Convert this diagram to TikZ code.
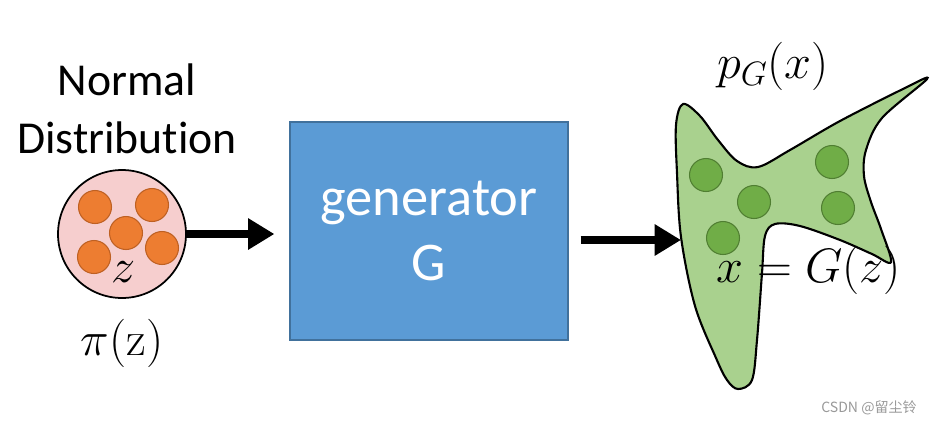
\RequirePackage{fix-cm}
\documentclass[tikz,border=0pt]{standalone}
\usepackage{fontspec}
\usetikzlibrary{arrows.meta}
\newfontfamily\calibri[Ligatures={NoCommon,NoRequired,NoContextual}]{Carlito}
\newfontfamily\cjkfont{Noto Sans CJK SC}

\definecolor{priorpink}{RGB}{246,206,206}
\definecolor{dotorange}{RGB}{237,125,49}
\definecolor{dotorangeline}{RGB}{190,96,34}
\definecolor{genblue}{RGB}{91,155,213}
\definecolor{genblueline}{RGB}{65,113,156}
\definecolor{blobgreen}{RGB}{169,209,142}
\definecolor{dotgreen}{RGB}{112,173,71}
\definecolor{dotgreenline}{RGB}{80,126,50}

\tikzset{
  bigtext/.style={font=\fontsize{27.5}{33}\selectfont},
  zdot/.style={circle, minimum size=0.66cm, inner sep=0pt, fill=dotorange, draw=dotorangeline, line width=0.6pt},
  xdot/.style={circle, minimum size=0.66cm, inner sep=0pt, fill=dotgreen, draw=dotgreenline, line width=0.6pt},
  fatarrow/.style={line width=4.6pt, -{Triangle[length=15pt,width=17pt]}},
}

\begin{document}
\begin{tikzpicture}[x=0.02cm, y=-0.02cm]
\useasboundingbox (0,0) rectangle (936,424);

% prior
\node[align=center, font=\calibri\fontsize{26}{33}\selectfont] (dist) at (127,109) {Normal\\Distribution};
\node[circle, minimum size=2.56cm, inner sep=0pt, fill=priorpink, draw=black, line width=1pt] (prior) at (122,234) {};
\node[zdot] (z1) at (95,207) {};
\node[zdot] (z2) at (152,205) {};
\node[zdot] (z3) at (126,233) {};
\node[zdot] (z4) at (94,257) {};
\node[zdot] (z5) at (162,248) {};
\node[bigtext] (zlab) at (124,272) {$z$};
\node[bigtext] (pilab) at (122,343) {$\pi(\mathrm{z})$};

% generator
\node[rectangle, minimum width=5.56cm, minimum height=4.36cm, fill=genblue, draw=genblueline, line width=0.8pt,
      text=white, align=center, font=\calibri\fontsize{31}{37}\selectfont] (gen) at (429,231) {generator\\G};

% generated data
\draw[fill=blobgreen, line width=1.2pt] plot[smooth cycle, tension=0.55] coordinates {
  (683,104) (700,116) (718,140) (737,161) (758,167) (790,150) (840,121) (905,88) (927,79)
  (882,118) (866,150) (864,176) (871,202) (881,229) (891,262)
  (872,254) (840,240) (800,226) (775,224) (765,236) (762,273) (757,340) (752,380) (738,389)
  (727,380) (716,358) (695,306) (681,237) (677,173) (676,125)};
\coordinate (pin) at (681,240);
\node[xdot] (x1) at (706,175) {};
\node[xdot] (x2) at (754,202) {};
\node[xdot] (x3) at (723,238) {};
\node[xdot] (x4) at (832,162) {};
\node[xdot] (x5) at (838,208) {};
\node[bigtext] (pglab) at (773,66) {$p_G(x)$};
\node[bigtext] (xlab) at (809,270) {$x = G(z)$};

% arrows
\draw[fatarrow, shorten >=8.5pt] (prior.east) -- (prior.east -| gen.west);
\draw[fatarrow, shorten <=6.8pt] (gen.east |- pin) -- (pin);

\node[text=black!40, font=\cjkfont\fontsize{8}{9}\selectfont] (mark) at (869,408) {CSDN @留尘铃};
\end{tikzpicture}
\end{document}
